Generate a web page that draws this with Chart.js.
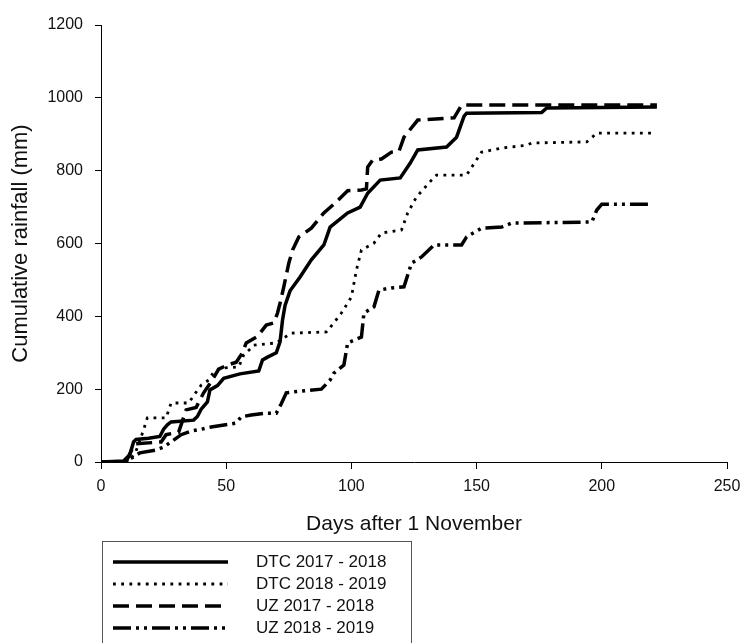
<!DOCTYPE html>
<html>
<head>
<meta charset="utf-8">
<title>Cumulative rainfall</title>
<script src="https://cdn.jsdelivr.net/npm/chart.js@4.4.1/dist/chart.umd.min.js"></script>
<style>
    html, body { margin: 0; padding: 0; background: #ffffff; }
    #rainChart { display: block; }
</style>
</head>
<body>
<canvas id="rainChart" width="742" height="643"></canvas>
<script>
"use strict";

// ------------------------------------------------------- //
// Data (days after 1 November, mm)
// ------------------------------------------------------ //
var xTicks = [0, 50, 100, 150, 200, 250];
var yTicks = [0, 200, 400, 600, 800, 1000, 1200];
var seriesLabels = ["DTC 2017 - 2018", "DTC 2018 - 2019", "UZ 2017 - 2018", "UZ 2018 - 2019"];

var dtc1718Days = [0, 9, 11.5, 13, 14, 19, 23.5, 25, 26.5, 28, 37, 38.5, 40, 42.5, 43.5, 46.5, 49, 55.5, 63, 64.5, 66.5, 70, 71.5, 72.5, 73.5, 75.5, 79.5, 84, 89, 91.5, 98.5, 103.5, 106.5, 111.5, 119.5, 123.5, 126.5, 138, 142, 145, 146, 176, 178, 222];
var dtc1718Rain = [0, 3, 20, 55, 62, 65, 70, 90, 102, 110, 115, 125, 145, 165, 198, 210, 230, 242, 250, 280, 288, 300, 330, 390, 430, 470, 508, 555, 596, 645, 684, 700, 738, 774, 780, 821, 857, 865, 892, 950, 958, 960, 972, 975];

var dtc1819Days = [0, 11, 14, 17, 18.5, 26, 28, 35, 38, 40, 43, 45, 48, 55, 57, 60, 61, 70, 76, 90, 93, 96, 100, 102, 104, 109, 112, 120, 122.5, 126, 132, 134, 146, 152, 160, 170, 172, 194, 198, 221];
var dtc1819Rain = [0, 0, 30, 88, 121, 121, 162, 162, 192, 211, 225, 247, 258, 261, 294, 313, 321, 327, 354, 357, 382, 409, 453, 527, 582, 601, 629, 637, 684, 728, 774, 788, 788, 851, 862, 870, 876, 879, 903, 903];

var uz1718Days = [0, 10, 12, 14, 24, 26, 31, 34, 38, 41, 44, 47, 50, 54, 56.5, 58, 62.5, 66, 69, 70.5, 71.5, 73, 75, 76.5, 79, 84, 89, 93.5, 98.5, 104, 106, 106.5, 108.5, 112, 116, 119, 121, 126.5, 141, 144, 222];
var uz1718Rain = [0, 0, 30, 50, 55, 75, 82, 143, 150, 190, 220, 255, 265, 274, 300, 327, 345, 376, 382, 409, 436, 481, 546, 582, 618, 642, 684, 711, 745, 747, 750, 810, 829, 832, 851, 853, 892, 939, 945, 980, 980];

var uz1819Days = [0, 10, 12, 15.5, 22, 25, 29, 32, 36, 40, 44, 54, 56, 60, 66, 70, 72, 74, 80, 88, 91.5, 93, 97, 98.5, 104, 105, 109, 111, 116, 121, 124, 128, 133, 144, 146, 152, 160, 164, 196, 198, 200, 220];
var uz1819Rain = [0, 0, 10, 25, 33, 41, 60, 75, 85, 90, 96, 107, 124, 129, 134, 134, 160, 190, 195, 200, 225, 244, 266, 327, 343, 409, 426, 472, 478, 481, 546, 563, 596, 596, 618, 642, 645, 656, 659, 692, 708, 708];

var fontFamily = "Arial, 'Liberation Sans', sans-serif";
var inkColor = "#111111";

function toPoints(days, rain) {
    return days.map(function (d, i) {
        return { x: d, y: rain[i] };
    });
}

function lineSet(label, days, rain, width, dash) {
    return {
        label: label,
        data: toPoints(days, rain),
        borderColor: "#000000",
        backgroundColor: "#000000",
        borderWidth: width,
        borderDash: dash,
        borderCapStyle: "butt",
        borderJoinStyle: "miter",
        pointRadius: 0,
        tension: 0,
        fill: false,
    };
}

// ------------------------------------------------------- //
// Boxed legend under the plot
// ------------------------------------------------------ //
var boxLegend = {
    id: "boxLegend",
    afterDraw: function (chart) {
        var ctx = chart.ctx;
        ctx.save();
        ctx.strokeStyle = "#555555";
        ctx.lineWidth = 1;
        ctx.strokeRect(102.5, 541.5, 309, 130);

        chart.data.datasets.forEach(function (ds, i) {
            var y = 562 + i * 22;
            ctx.beginPath();
            ctx.lineWidth = ds.borderWidth;
            ctx.lineCap = "butt";
            ctx.setLineDash(ds.borderDash || []);
            ctx.strokeStyle = ds.borderColor;
            ctx.moveTo(113, y);
            ctx.lineTo(228, y);
            ctx.stroke();
            ctx.setLineDash([]);

            ctx.fillStyle = inkColor;
            ctx.font = "17px " + fontFamily;
            ctx.textAlign = "left";
            ctx.textBaseline = "middle";
            ctx.fillText(ds.label, 256, y);
        });
        ctx.restore();
    },
};

// ------------------------------------------------------- //
// Cumulative rainfall chart
// ------------------------------------------------------ //
var RAINCHART = document.getElementById("rainChart");
var rainChart = new Chart(RAINCHART, {
    type: "line",
    data: {
        datasets: [
            lineSet(seriesLabels[0], dtc1718Days, dtc1718Rain, 3.5, []),
            lineSet(seriesLabels[1], dtc1819Days, dtc1819Rain, 2.8, [2.8, 5.4]),
            lineSet(seriesLabels[2], uz1718Days, uz1718Rain, 3.5, [16, 7]),
            lineSet(seriesLabels[3], uz1819Days, uz1819Rain, 3.5, [18, 5, 3, 5, 3, 5]),
        ],
    },
    options: {
        responsive: false,
        animation: false,
        layout: {
            padding: { top: 25, right: 15, bottom: 103, left: 0 },
        },
        plugins: {
            legend: { display: false },
            tooltip: { enabled: false },
        },
        scales: {
            x: {
                type: "linear",
                min: 0,
                max: 250,
                afterBuildTicks: function (axis) {
                    axis.ticks = xTicks.map(function (v) { return { value: v }; });
                },
                afterFit: function (axis) {
                    axis.height = 78;
                    axis.paddingLeft = 0;
                    axis.paddingRight = 0;
                },
                grid: {
                    drawOnChartArea: false,
                    drawTicks: true,
                    tickLength: 7,
                    tickColor: "#000000",
                },
                border: { display: true, color: "#000000", width: 1 },
                ticks: {
                    padding: 8,
                    color: inkColor,
                    font: { family: fontFamily, size: 16 },
                    callback: function (value) { return String(value); },
                },
                title: {
                    display: true,
                    text: "Days after 1 November",
                    color: inkColor,
                    font: { family: fontFamily, size: 21 },
                    padding: { top: 0, bottom: 3 },
                },
            },
            y: {
                min: 0,
                max: 1200,
                afterBuildTicks: function (axis) {
                    axis.ticks = yTicks.map(function (v) { return { value: v }; });
                },
                afterFit: function (axis) {
                    axis.width = 101;
                },
                grid: {
                    drawOnChartArea: false,
                    drawTicks: true,
                    tickLength: 6,
                    tickColor: "#000000",
                },
                border: { display: true, color: "#000000", width: 1 },
                ticks: {
                    padding: 12,
                    color: inkColor,
                    font: { family: fontFamily, size: 16 },
                    callback: function (value) { return String(value); },
                },
                title: {
                    display: true,
                    text: "Cumulative rainfall (mm)",
                    color: inkColor,
                    font: { family: fontFamily, size: 22 },
                    padding: { top: 8, bottom: 0 },
                },
            },
        },
    },
    plugins: [boxLegend],
});
</script>
</body>
</html>
